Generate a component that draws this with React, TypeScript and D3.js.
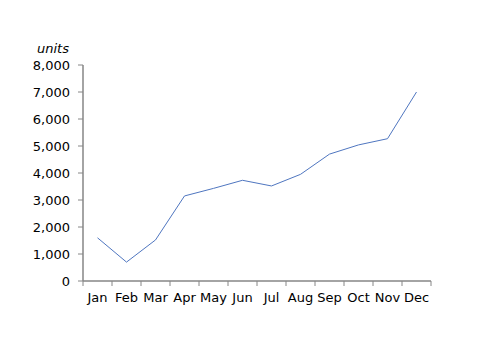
import React from "react";
import * as d3 from "d3";

const months = ["Jan","Feb","Mar","Apr","May","Jun","Jul","Aug","Sep","Oct","Nov","Dec"];
const units = [1600, 700, 1520, 3150, 3430, 3730, 3520, 3950, 4700, 5040, 5270, 7000];
const yTicks = [0,1000,2000,3000,4000,5000,6000,7000,8000];

export default function App() {
  const W = 500, H = 353;
  const left = 83, right = 431, top = 65, bottom = 281;
  const x = d3.scaleBand<string>().domain(months).range([left, right]);
  const y = d3.scaleLinear().domain([0, 8000]).range([bottom, top]);
  const line = d3.line<number>()
    .x((_, i) => (x(months[i]) as number) + x.bandwidth() / 2)
    .y(d => y(d));
  const fmt = d3.format(",");
  const font = "'DejaVu Sans', Verdana, sans-serif";
  const axisColor = "#868686";
  return (
    <svg width={W} height={H} style={{ position: "absolute", left: 0, top: 0, background: "#fff" }} fontFamily={font}>
      <text x={37} y={53} fontSize={13} fontStyle="italic" fill="#000">units</text>
      <line x1={left} x2={left} y1={top} y2={bottom} stroke={axisColor} strokeWidth={1.5} />
      {yTicks.map(t => (
        <g key={t}>
          <line x1={left - 5} x2={left} y1={y(t)} y2={y(t)} stroke={axisColor} strokeWidth={1} />
          <text x={70} y={y(t)} dy="0.36em" textAnchor="end" fontSize={13} fill="#000">{fmt(t)}</text>
        </g>
      ))}
      <line x1={left} x2={right} y1={bottom} y2={bottom} stroke={axisColor} strokeWidth={1.5} />
      {months.concat(["_end"]).map((m, i) => {
        const xx = left + i * x.step();
        return <line key={"t" + i} x1={xx} x2={xx} y1={bottom} y2={bottom + 5} stroke={axisColor} strokeWidth={1} />;
      })}
      {months.map(m => (
        <text key={m} x={(x(m) as number) + x.bandwidth() / 2} y={302} textAnchor="middle" fontSize={13} fill="#000">{m}</text>
      ))}
      <path d={line(units) || ""} fill="none" stroke="#4f76c0" strokeWidth={1} />
    </svg>
  );
}
